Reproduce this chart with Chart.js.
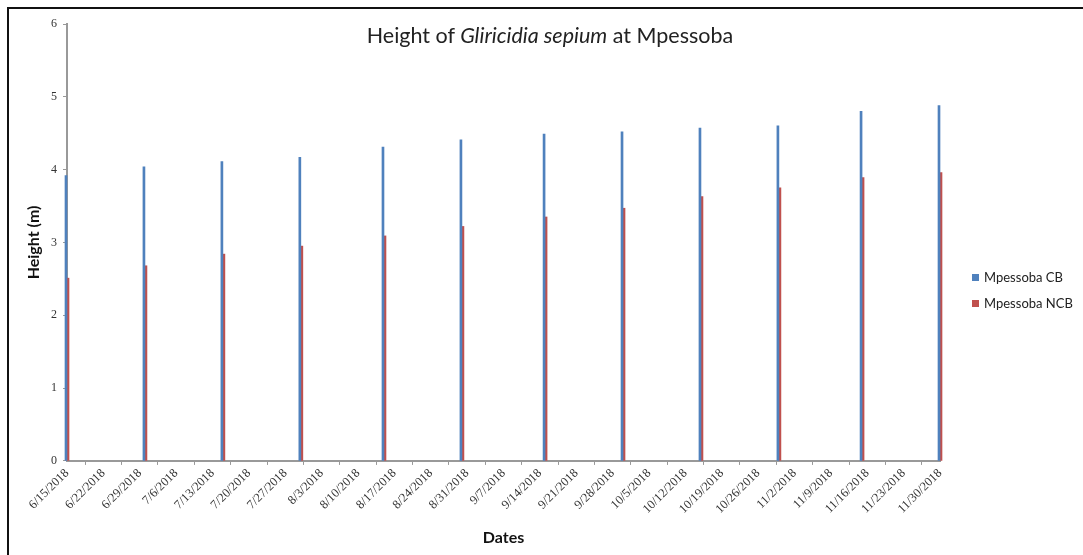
<!DOCTYPE html>
<html>
<head>
<meta charset="utf-8">
<script src="https://cdn.jsdelivr.net/npm/chart.js@4/dist/chart.umd.min.js"></script>
<style>
  html, body { margin: 0; padding: 0; background: #fff; }
  #wrap { position: relative; width: 1083px; height: 555px; overflow: hidden; }
  #frame { position: absolute; left: 7px; top: 7px; width: 1200px; height: 700px;
           border-left: 2px solid #111; border-top: 2px solid #111; box-sizing: border-box; }
  #title { position: absolute; left: 0; width: 1100px; top: 22px; text-align: center;
           font-family: Lato, "Open Sans", sans-serif; font-size: 21.5px; color: #222; }
  #legend { position: absolute; left: 972px; top: 264px; font-family: Lato, "Open Sans", sans-serif;
            font-size: 13px; color: #222; }
  .item { height: 26px; display: flex; align-items: center; white-space: nowrap; }
  .sw { width: 7px; height: 7px; margin-right: 5px; }
  canvas { position: absolute; left: 0; top: 0; }
</style>
</head>
<body>
<div id="wrap">
  <div id="frame"></div>
  <canvas id="c" width="1083" height="555"></canvas>
  <div id="title">Height of <i>Gliricidia sepium</i> at Mpessoba</div>
  <div id="legend"></div>
</div>
<script>
// ---- data ----
const measureDates = ['6/15/2018','6/30/2018','7/15/2018','7/30/2018','8/15/2018','8/30/2018',
                      '9/15/2018','9/30/2018','10/15/2018','10/30/2018','11/15/2018','11/30/2018'];
const cbHeights  = [3.92, 4.04, 4.11, 4.17, 4.31, 4.41, 4.49, 4.52, 4.57, 4.60, 4.80, 4.88];
const ncbHeights = [2.51, 2.68, 2.84, 2.95, 3.09, 3.22, 3.35, 3.47, 3.63, 3.75, 3.89, 3.96];
const xTickLabels = ['6/15/2018','6/22/2018','6/29/2018','7/6/2018','7/13/2018','7/20/2018',
  '7/27/2018','8/3/2018','8/10/2018','8/17/2018','8/24/2018','8/31/2018','9/7/2018','9/14/2018',
  '9/21/2018','9/28/2018','10/5/2018','10/12/2018','10/19/2018','10/26/2018','11/2/2018',
  '11/9/2018','11/16/2018','11/23/2018','11/30/2018'];
const yTickValues = [0, 1, 2, 3, 4, 5, 6];
const seriesNames = ['Mpessoba CB', 'Mpessoba NCB'];
const seriesColors = ['#4F81BD', '#C0504D'];

// ---- helpers ----
function dayNum(s) {
  const [m, d, y] = s.split('/').map(Number);
  return Date.UTC(y, m - 1, d) / 86400000;
}
const origin = dayNum(xTickLabels[0]);
const offs = s => dayNum(s) - origin;
const tickMap = {};
xTickLabels.forEach(l => { tickMap[offs(l)] = l; });

const cbData  = measureDates.map((d, i) => ({ x: offs(d), y: cbHeights[i] }));
const ncbData = measureDates.map((d, i) => ({ x: offs(d), y: ncbHeights[i] }));

const serif = "'Liberation Serif', 'DejaVu Serif', serif";
const sans = "Lato, 'Open Sans', sans-serif";

// HTML legend (real text)
const lg = document.getElementById('legend');
seriesNames.forEach((n, i) => {
  const it = document.createElement('div'); it.className = 'item';
  const sw = document.createElement('span'); sw.className = 'sw'; sw.style.background = seriesColors[i];
  const tx = document.createElement('span'); tx.textContent = n;
  it.appendChild(sw); it.appendChild(tx); lg.appendChild(it);
});

new Chart(document.getElementById('c'), {
  type: 'bar',
  data: {
    datasets: [
      { label: seriesNames[0], data: cbData, backgroundColor: seriesColors[0], barThickness: 2, borderWidth: 0, clip: false },
      { label: seriesNames[1], data: ncbData, backgroundColor: seriesColors[1], barThickness: 2, borderWidth: 0, clip: false }
    ]
  },
  options: {
    responsive: false,
    animation: false,
    layout: { padding: { top: 24, left: 24, right: 143, bottom: 2 } },
    plugins: {
      title: { display: false },
      tooltip: { enabled: false },
      legend: { display: false }
    },
    scales: {
      x: {
        type: 'linear',
        offset: false,
        min: offs(xTickLabels[0]),
        max: offs(xTickLabels[xTickLabels.length - 1]),
        grid: { display: true, drawOnChartArea: false, drawTicks: true, tickLength: 4, color: '#999' },
        border: { display: true, color: '#999', width: 2 },
        afterBuildTicks: (scale) => {
          scale.ticks = xTickLabels.map(l => ({ value: offs(l) }));
        },
        ticks: {
          autoSkip: false,
          maxRotation: 45, minRotation: 45,
          font: { family: serif, size: 12.5 }, color: '#333', padding: 1,
          callback: (v) => tickMap[v] || ''
        },
        title: { display: true, text: 'Dates', font: { family: sans, size: 16, weight: 'bold' },
                 color: '#111', padding: { top: 10, bottom: 6 } }
      },
      y: {
        min: 0, max: 6,
        afterBuildTicks: (scale) => { scale.ticks = yTickValues.map(v => ({ value: v })); },
        grid: { display: true, drawOnChartArea: false, drawTicks: true, tickLength: 4, color: '#999' },
        border: { display: true, color: '#999', width: 2 },
        ticks: { font: { family: serif, size: 12 }, color: '#333', padding: 6 },
        title: { display: true, text: 'Height (m)', font: { family: sans, size: 16, weight: 'bold' },
                 color: '#111', padding: { top: 0, bottom: 0 } },
        afterFit: (scale) => { scale.width = 43; }
      }
    }
  }
});
</script>
</body>
</html>
